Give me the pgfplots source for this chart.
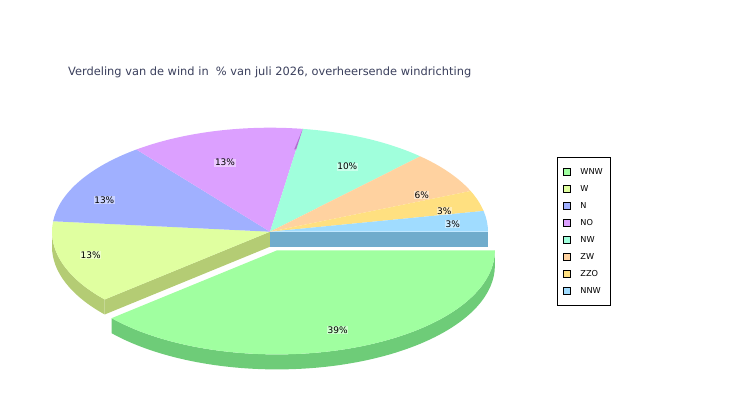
\documentclass[border=0pt]{standalone}
\usepackage{pgfplots}
\pgfplotsset{compat=1.18}
\usepackage{pgfplotstable}
\usepackage{fontspec}
\setmainfont{DejaVu Sans}

\definecolor{cWNW}{HTML}{A0FFA0}\definecolor{sWNW}{HTML}{6ECC78}
\definecolor{cW}{HTML}{E0FFA0}\definecolor{sW}{HTML}{B4CC74}
\definecolor{cN}{HTML}{A0B0FF}
\definecolor{cNO}{HTML}{DCA0FF}\definecolor{sNO}{HTML}{B070D0}
\definecolor{cNW}{HTML}{A0FFDC}
\definecolor{cZW}{HTML}{FFD2A0}
\definecolor{cZZO}{HTML}{FFE080}
\definecolor{cNNW}{HTML}{A0DCFF}\definecolor{sNNW}{HTML}{70ACCC}
\definecolor{titlec}{HTML}{3A3F5C}

% share of the days of July 2026 per prevailing wind direction (%)
\pgfplotstableread{
dir pct
WNW 38.7
W   12.9
N   12.9
NO  12.9
NW  9.7
ZW  6.5
ZZO 3.2
NNW 3.2
}\winddata

\newcommand{\rx}{218pt}
\newcommand{\ry}{104pt}
% top face of a slice: centre, start angle, end angle, colour
\newcommand{\slicetop}[4]{\fill[#4] (axis cs:#1) -- ++(#2:\rx\space and \ry) arc[start angle=#2, end angle=#3, x radius=\rx, y radius=\ry] -- cycle;}
% curved side face
\newcommand{\sliceside}[4]{\fill[#4] (axis cs:#1) ++(#2:\rx\space and \ry) arc[start angle=#2, end angle=#3, x radius=\rx, y radius=\ry] -- ++(0,-15pt) arc[start angle=#3, end angle=#2, x radius=\rx, y radius=\ry] -- cycle;}
% radial cut face
\newcommand{\slicecut}[3]{\fill[#3] (axis cs:#1) -- ++(#2:\rx\space and \ry) -- ++(0,-15pt) -- ++(#2+180:\rx\space and \ry) -- cycle;}

\begin{document}
\begin{tikzpicture}
\pgfplotstablegetelem{0}{pct}\of\winddata \let\pWNW\pgfplotsretval
\pgfplotstablegetelem{1}{pct}\of\winddata \let\pW\pgfplotsretval
\pgfplotstablegetelem{2}{pct}\of\winddata \let\pN\pgfplotsretval
\pgfplotstablegetelem{3}{pct}\of\winddata \let\pNO\pgfplotsretval
\pgfplotstablegetelem{4}{pct}\of\winddata \let\pNW\pgfplotsretval
\pgfplotstablegetelem{5}{pct}\of\winddata \let\pZW\pgfplotsretval
\pgfplotstablegetelem{6}{pct}\of\winddata \let\pZZO\pgfplotsretval
\pgfplotstablegetelem{7}{pct}\of\winddata \let\pNNW\pgfplotsretval
\pgfmathsetmacro\aA{0}
\pgfmathsetmacro\aB{\aA-3.6*\pWNW}
\pgfmathsetmacro\aC{\aB-3.6*\pW}
\pgfmathsetmacro\aD{\aC-3.6*\pN}
\pgfmathsetmacro\aE{\aD-3.6*\pNO}
\pgfmathsetmacro\aF{\aE-3.6*\pNW}
\pgfmathsetmacro\aG{\aF-3.6*\pZW}
\pgfmathsetmacro\aH{\aG-3.6*\pZZO}
\pgfmathsetmacro\aI{\aH-3.6*\pNNW}
\pgfmathsetmacro\aBp{360+\aB}
\begin{axis}[
  width=750pt, height=400pt, scale only axis,
  xmin=0, xmax=750, ymin=0, ymax=400,
  axis lines=none, clip=false,
  legend image code/.code={\draw[#1,draw=black,line width=0.5pt] (0pt,-3.5pt) rectangle (7pt,3.5pt);},
  legend style={at={(axis cs:557,243)}, anchor=north west, draw=black, line width=0.8pt,
    font=\fontsize{8.2}{9}\selectfont, row sep=8pt, inner xsep=6pt, inner ysep=9.5pt,
    nodes={inner sep=1.5pt, text height=5.8pt, text depth=0.3pt}},
  legend cell align=left,
  /tikz/every odd column/.append style={column sep=8pt},
]
\path (axis cs:0,0) rectangle (axis cs:750,400);
\addlegendimage{fill=cWNW}\addlegendentry{WNW}
\addlegendimage{fill=cW}\addlegendentry{W}
\addlegendimage{fill=cN}\addlegendentry{N}
\addlegendimage{fill=cNO}\addlegendentry{NO}
\addlegendimage{fill=cNW}\addlegendentry{NW}
\addlegendimage{fill=cZW}\addlegendentry{ZW}
\addlegendimage{fill=cZZO}\addlegendentry{ZZO}
\addlegendimage{fill=cNNW}\addlegendentry{NNW}

% main pie (unexploded part)
\slicecut{270,168.3}{\aB}{sW}
\slicecut{270,168.3}{\aI}{sNNW}
\sliceside{270,168.3}{-180}{\aB}{sW}
\slicetop{270,168.3}{\aC}{\aB}{cW}
\slicetop{270,168.3}{\aD}{\aC}{cN}
\slicetop{270,168.3}{\aE}{\aD}{cNO}
\slicetop{270,168.3}{\aF}{\aE}{cNW}
\slicetop{270,168.3}{\aG}{\aF}{cZW}
\slicetop{270,168.3}{\aH}{\aG}{cZZO}
\slicetop{270,168.3}{\aI}{\aH}{cNNW}
\fill[sNO] (axis cs:270,168.3) ++(\aE:\rx\space and \ry) -- ++(\aE+180:0.2*\rx\space and 0.2*\ry) -- ++(-2pt,0) -- cycle;
% exploded slice
\sliceside{276.9,149.6}{\aBp}{360}{sWNW}
\slicetop{276.9,149.6}{\aB}{\aA}{cWNW}

% labels
\begin{scope}[every node/.style={fill=white, fill opacity=0.45, text opacity=1, inner sep=0.6pt, font=\fontsize{9}{10}\selectfont}]
\node at (axis cs:225,237.3) {13\%};
\node at (axis cs:104.3,200) {13\%};
\node at (axis cs:90.7,145) {13\%};
\node at (axis cs:347.3,233.3) {10\%};
\node at (axis cs:421.7,205) {6\%};
\node at (axis cs:444.3,189) {3\%};
\node at (axis cs:452.7,175.7) {3\%};
\node at (axis cs:337.7,70) {39\%};
\end{scope}
\node[anchor=west, text=titlec, font=\fontsize{11.4}{13}\selectfont, inner sep=0pt] at (axis cs:68,328) {Verdeling van de wind in \ \% van juli 2026, overheersende windrichting};
\end{axis}
\end{tikzpicture}
\end{document}
